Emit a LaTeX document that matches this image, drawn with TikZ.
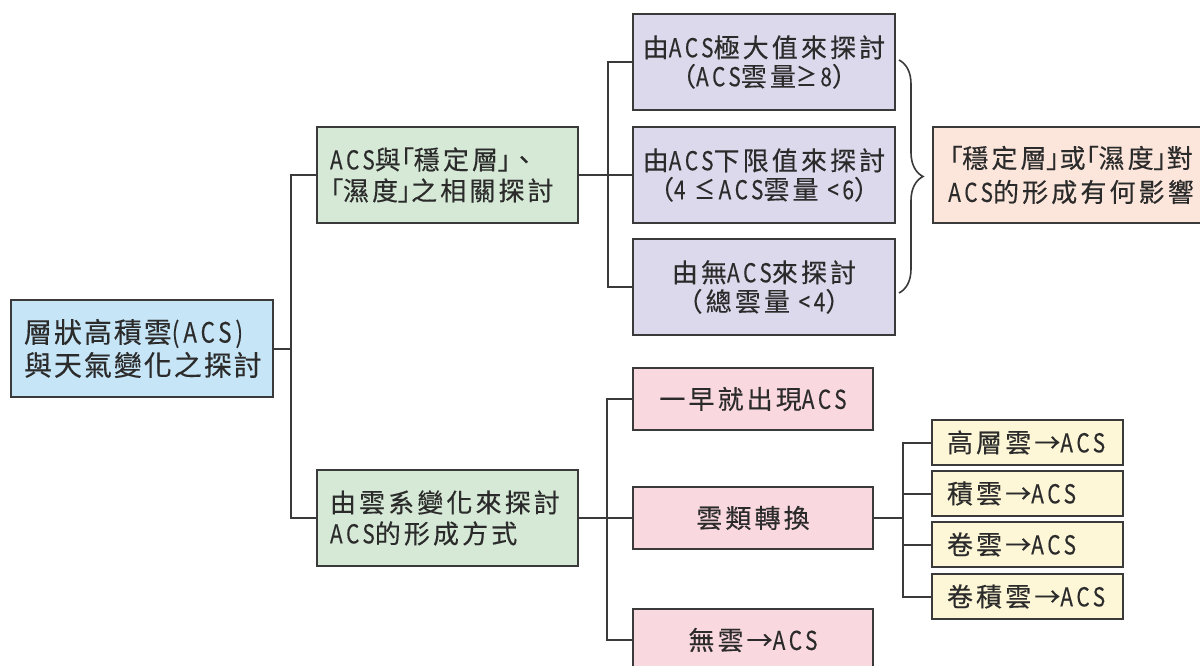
\documentclass[tikz,border=0pt]{standalone}
\usepackage{fontspec}
\setmainfont{Noto Sans CJK TC}
\newfontfamily\zhfont[LetterSpace=12,FakeBold=0.3]{Noto Sans CJK TC}
\newfontfamily\zhroot[LetterSpace=7,FakeBold=0.3]{Noto Sans CJK TC}
\newfontfamily\zhp[LetterSpace=6,FakeBold=0.3,RawFeature=+palt]{Noto Sans CJK TC}
\newfontfamily\latn[FakeStretch=0.8,LetterSpace=14,FakeBold=0.3]{Noto Sans CJK TC}
\newcommand\lb{{\zhp 「}}
\newcommand\rb{{\zhp 」}}
\usetikzlibrary{decorations.pathreplacing}
\definecolor{bord}{HTML}{3A3A3A}
\definecolor{txt}{HTML}{2B2B2B}
\definecolor{cblue}{HTML}{C6E5F6}
\definecolor{cgreen}{HTML}{D6E9D6}
\definecolor{cpurple}{HTML}{DDD9EC}
\definecolor{corange}{HTML}{FCE6DC}
\definecolor{cpink}{HTML}{F9D9DF}
\definecolor{cyellow}{HTML}{FDF6D7}
\tikzset{
  x=1pt, y=-1pt,
  box/.style={draw=bord, line width=2pt, inner ysep=0pt, text=txt,
    font=\zhfont\fontsize{26}{29}\selectfont},
  rootbox/.style={box, fill=cblue, minimum height=97pt, inner xsep=13pt,
    text width=236pt, align=left, font=\zhroot\fontsize{28}{33}\selectfont},
  greenbox/.style={box, fill=cgreen, minimum height=96pt, inner xsep=13pt,
    text width=235pt, align=left, font=\zhfont\fontsize{26}{31}\selectfont},
  purplebox/.style={box, fill=cpurple, minimum height=96pt, inner xsep=6pt,
    text width=250pt, align=center},
  orangebox/.style={box, fill=corange, minimum height=96pt, inner xsep=2pt,
    text width=272pt, align=center, anchor=west, font=\zhfont\fontsize{26}{34}\selectfont},
  pinkbox/.style={box, fill=cpink, minimum height=62pt, inner xsep=6pt,
    text width=228pt, align=center, font=\zhfont\fontsize{26}{30}\selectfont},
  yellowbox/.style={box, fill=cyellow, minimum height=45pt, inner xsep=15pt,
    text width=161pt, align=left, font=\zhfont\fontsize{26}{30}\selectfont},
  link/.style={draw=bord, line width=2pt},
}
\begin{document}
\begin{tikzpicture}
\useasboundingbox (0,0) rectangle (1200,666);
\clip (0,0) rectangle (1200,666);

\node[rootbox] (root) at (142,348.5) {層狀高積雲{\latn(ACS)}\\與天氣變化之探討};
\node[greenbox] (g1) at (447.5,175) {{\latn ACS}與\lb 穩定層\rb 、\\\lb 濕度\rb 之相關探討};
\node[greenbox] (g2) at (447.5,518) {由雲系變化來探討\\{\latn ACS}的形成方式};

\node[purplebox] (p1) at (764,62) {由{\latn ACS}極大值來探討\\（{\latn ACS}雲量{\latn ≥8}）};
\node[purplebox] (p2) at (764,175) {由{\latn ACS}下限值來探討\\（{\latn 4 ≤ACS}雲量{\latn\ <6}）};
\node[purplebox] (p3) at (764,287) {由無{\latn ACS}來探討\\（總雲量{\latn\ <4}）};

\node[orangebox] (o) at (932,175) {\lb 穩定層\rb 或\lb 濕度\rb 對\\{\latn ACS}的形成有何影響};

\node[pinkbox] (k1) at (753,399) {一早就出現{\latn ACS}};
\node[pinkbox] (k2) at (753,518) {雲類轉換};
\node[pinkbox] (k3) at (753,640) {無雲→{\latn ACS}};

\node[yellowbox] (y1) at (1027.5,442.5) {高層雲→{\latn ACS}};
\node[yellowbox] (y2) at (1027.5,493.5) {積雲→{\latn ACS}};
\node[yellowbox] (y3) at (1027.5,544.5) {卷雲→{\latn ACS}};
\node[yellowbox] (y4) at (1027.5,596.5) {卷積雲→{\latn ACS}};

\coordinate (j1) at (291,348.5);
\coordinate (j2) at (608,175);
\coordinate (j3) at (607,518);
\coordinate (j4) at (903,518);

\draw[link] (root.east) -- (j1);
\draw[link] (g1.west) -| (j1);
\draw[link] (g2.west) -| (j1);

\draw[link] (g1.east) -- (j2);
\draw[link] (p1.west) -| (j2);
\draw[link] (p2.west) -- (j2);
\draw[link] (p3.west) -| (j2);

\draw[link] (g2.east) -- (j3);
\draw[link] (k1.west) -| (j3);
\draw[link] (k2.west) -- (j3);
\draw[link] (k3.west) -| (j3);

\draw[link] (k2.east) -- (j4);
\draw[link] (y1.west) -| (j4);
\draw[link] (y2.west) -| (j4);
\draw[link] (y3.west) -| (j4);
\draw[link] (y4.west) -| (j4);

\coordinate (bt) at (899,60);
\coordinate (bb) at (899,293);
\draw[draw=bord, line width=1.6pt, decorate, decoration={brace, amplitude=24pt, aspect=0.5}] (bt) -- (bb);
\end{tikzpicture}
\end{document}
